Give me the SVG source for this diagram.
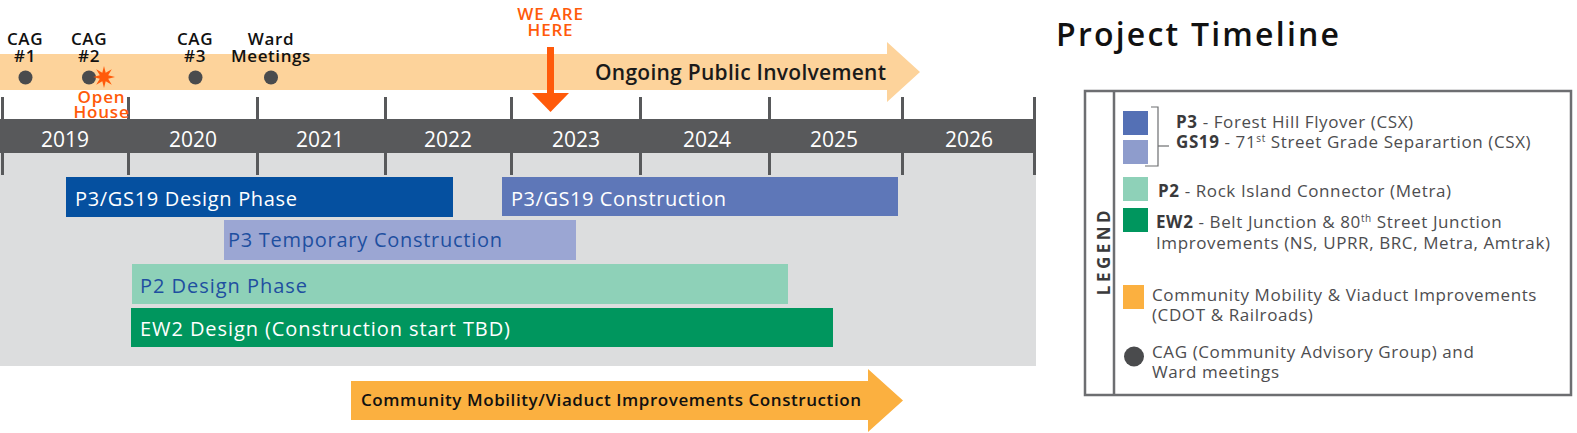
<svg xmlns="http://www.w3.org/2000/svg" width="1577" height="433" viewBox="0 0 1577 433">
<style>
text{font-family:"Open Sans","Liberation Sans",sans-serif}
.lbl{font-size:17px;font-weight:600;fill:#111;text-anchor:middle;letter-spacing:0.6px}
.org{font-size:17px;font-weight:600;fill:#FF5A0A;text-anchor:middle;letter-spacing:0.8px}
.yr{font-size:21px;fill:#fff;text-anchor:middle}
.bar{font-size:20px;font-weight:500}
.tick{fill:#58595B}
.lg{font-size:17px;fill:#4D4D4F;letter-spacing:0.6px}
.bd{font-weight:700;fill:#3A3A3C}
.sup{font-size:10px}
</style>
<rect width="1577" height="433" fill="#fff"/>
<g id="public-involvement">
<polygon points="0,54 887,54 887,42 920,72 887,102 887,90 0,90" fill="#FDD39B"/>
<text x="595" y="80" font-size="21" font-weight="600" fill="#1A1A1A" textLength="291" lengthAdjust="spacing">Ongoing Public Involvement</text>
</g>
<g id="timeline">
<rect x="0" y="153" width="1036" height="213" fill="#DCDDDE"/>
<rect x="0" y="119" width="1036" height="34" fill="#58595B"/>
<g class="tick">
<rect x="1" y="97" width="3" height="78"/>
<rect x="127" y="97" width="3" height="78"/>
<rect x="256" y="97" width="3" height="78"/>
<rect x="384" y="97" width="3" height="78"/>
<rect x="510" y="97" width="3" height="78"/>
<rect x="639" y="97" width="3" height="78"/>
<rect x="768" y="97" width="3" height="78"/>
<rect x="901" y="97" width="3" height="78"/>
<rect x="1033" y="97" width="3" height="78"/>
</g>
<text class="yr" x="65" y="147">2019</text>
<text class="yr" x="193" y="147">2020</text>
<text class="yr" x="320" y="147">2021</text>
<text class="yr" x="448" y="147">2022</text>
<text class="yr" x="576" y="147">2023</text>
<text class="yr" x="707" y="147">2024</text>
<text class="yr" x="834" y="147">2025</text>
<text class="yr" x="969" y="147">2026</text>
</g>
<g id="meetings">
<circle cx="25.5" cy="77.5" r="7" fill="#4A4B4D"/>
<circle cx="89" cy="77.5" r="7" fill="#4A4B4D"/>
<circle cx="195.5" cy="77.5" r="7" fill="#4A4B4D"/>
<circle cx="271" cy="77.5" r="7" fill="#4A4B4D"/>
<text class="lbl" x="25" y="45">CAG</text><text class="lbl" x="25" y="62">#1</text>
<text class="lbl" x="89" y="45">CAG</text><text class="lbl" x="89" y="62">#2</text>
<text class="lbl" x="195" y="45">CAG</text><text class="lbl" x="195" y="62">#3</text>
<text class="lbl" x="271" y="45">Ward</text><text class="lbl" x="271" y="62">Meetings</text>
</g>
<g id="open-house">
<polygon points="104,66 105.7,72.8 111.8,69.2 108.2,75.3 115,77 108.2,78.7 111.8,84.8 105.7,81.2 104,88 102.3,81.2 96.2,84.8 99.8,78.7 93,77 99.8,75.3 96.2,69.2 102.3,72.8" fill="#FF5A0A"/>
<text class="org" x="101.5" y="103">Open</text>
<text class="org" x="101.5" y="118">House</text>
</g>
<g id="we-are-here">
<text class="org" x="550.5" y="20">WE ARE</text>
<text class="org" x="550.5" y="36">HERE</text>
<rect x="547" y="47" width="7" height="47" fill="#FF5A0A"/>
<polygon points="532,93 569,93 550.5,112" fill="#FF5A0A"/>
</g>
<g id="p3gs19-design">
<rect x="66" y="177" width="387" height="40" fill="#0550A0"/>
<text class="bar" x="75" y="206" fill="#fff" textLength="222" lengthAdjust="spacing">P3/GS19 Design Phase</text>
</g>
<g id="p3gs19-construction">
<rect x="502" y="177" width="396" height="39" fill="#5E77B8"/>
<text class="bar" x="511" y="206" fill="#fff" textLength="215" lengthAdjust="spacing">P3/GS19 Construction</text>
</g>
<g id="p3-temporary">
<rect x="224" y="220" width="352" height="40" fill="#9BA6D3"/>
<text class="bar" x="228" y="247" fill="#1E4FA0" textLength="274" lengthAdjust="spacing">P3 Temporary Construction</text>
</g>
<g id="p2-design">
<rect x="132" y="264" width="656" height="40" fill="#8ED1B8"/>
<text class="bar" x="140" y="293" fill="#1E4FA0" textLength="167" lengthAdjust="spacing">P2 Design Phase</text>
</g>
<g id="ew2-design">
<rect x="131" y="308" width="702" height="39" fill="#00965E"/>
<text class="bar" x="140" y="336" fill="#fff" textLength="370" lengthAdjust="spacing">EW2 Design (Construction start TBD)</text>
</g>
<g id="community-mobility">
<polygon points="351,381 868,381 868,369 903,400.5 868,432 868,420 351,420" fill="#FBB040"/>
<text x="361" y="406" font-size="17" font-weight="600" fill="#111" textLength="500" lengthAdjust="spacing">Community Mobility/Viaduct Improvements Construction</text>
</g>
<g id="title">
<text x="1056" y="46" font-size="32" font-weight="600" fill="#111" textLength="283" lengthAdjust="spacing">Project Timeline</text>
</g>
<g id="legend">
<rect x="1085" y="91" width="486" height="304" fill="#fff" stroke="#6D6E71" stroke-width="2.5"/>
<line x1="1114" y1="91" x2="1114" y2="395" stroke="#6D6E71" stroke-width="2.5"/>
<text x="1103" y="251" font-size="17" font-weight="700" fill="#3A3A3C" letter-spacing="3.5" text-anchor="middle" transform="rotate(-90 1103 251)" dominant-baseline="central">LEGEND</text>
<rect x="1123" y="111" width="25" height="24" fill="#5470B5"/>
<rect x="1123" y="140" width="25" height="24" fill="#8E9CCC"/>
<polyline points="1151,107 1158,107 1158,166 1145,166" fill="none" stroke="#6D6E71" stroke-width="1.2"/>
<line x1="1158" y1="146" x2="1169" y2="146" stroke="#6D6E71" stroke-width="1.2"/>
<text class="lg" x="1176" y="128"><tspan class="bd">P3</tspan> - Forest Hill Flyover (CSX)</text>
<text class="lg" x="1176" y="148"><tspan class="bd">GS19</tspan> - 71<tspan class="sup" dy="-6">st</tspan><tspan dy="6"> Street Grade Separartion (CSX)</tspan></text>
<rect x="1123" y="177" width="25" height="24" fill="#8ED1B8"/>
<text class="lg" x="1158" y="197"><tspan class="bd">P2</tspan> - Rock Island Connector (Metra)</text>
<rect x="1123" y="208" width="25" height="24" fill="#00965E"/>
<text class="lg" x="1156" y="228"><tspan class="bd">EW2</tspan> - Belt Junction &amp; 80<tspan class="sup" dy="-6">th</tspan><tspan dy="6"> Street Junction</tspan></text>
<text class="lg" x="1156" y="249">Improvements (NS, UPRR, BRC, Metra, Amtrak)</text>
<rect x="1123" y="285" width="21" height="24" fill="#FBB040"/>
<text class="lg" x="1152" y="301">Community Mobility &amp; Viaduct Improvements</text>
<text class="lg" x="1152" y="321">(CDOT &amp; Railroads)</text>
<circle cx="1134" cy="356.5" r="10" fill="#4A4B4D"/>
<text class="lg" x="1152" y="358">CAG (Community Advisory Group) and</text>
<text class="lg" x="1152" y="378">Ward meetings</text>
</g>
</svg>
